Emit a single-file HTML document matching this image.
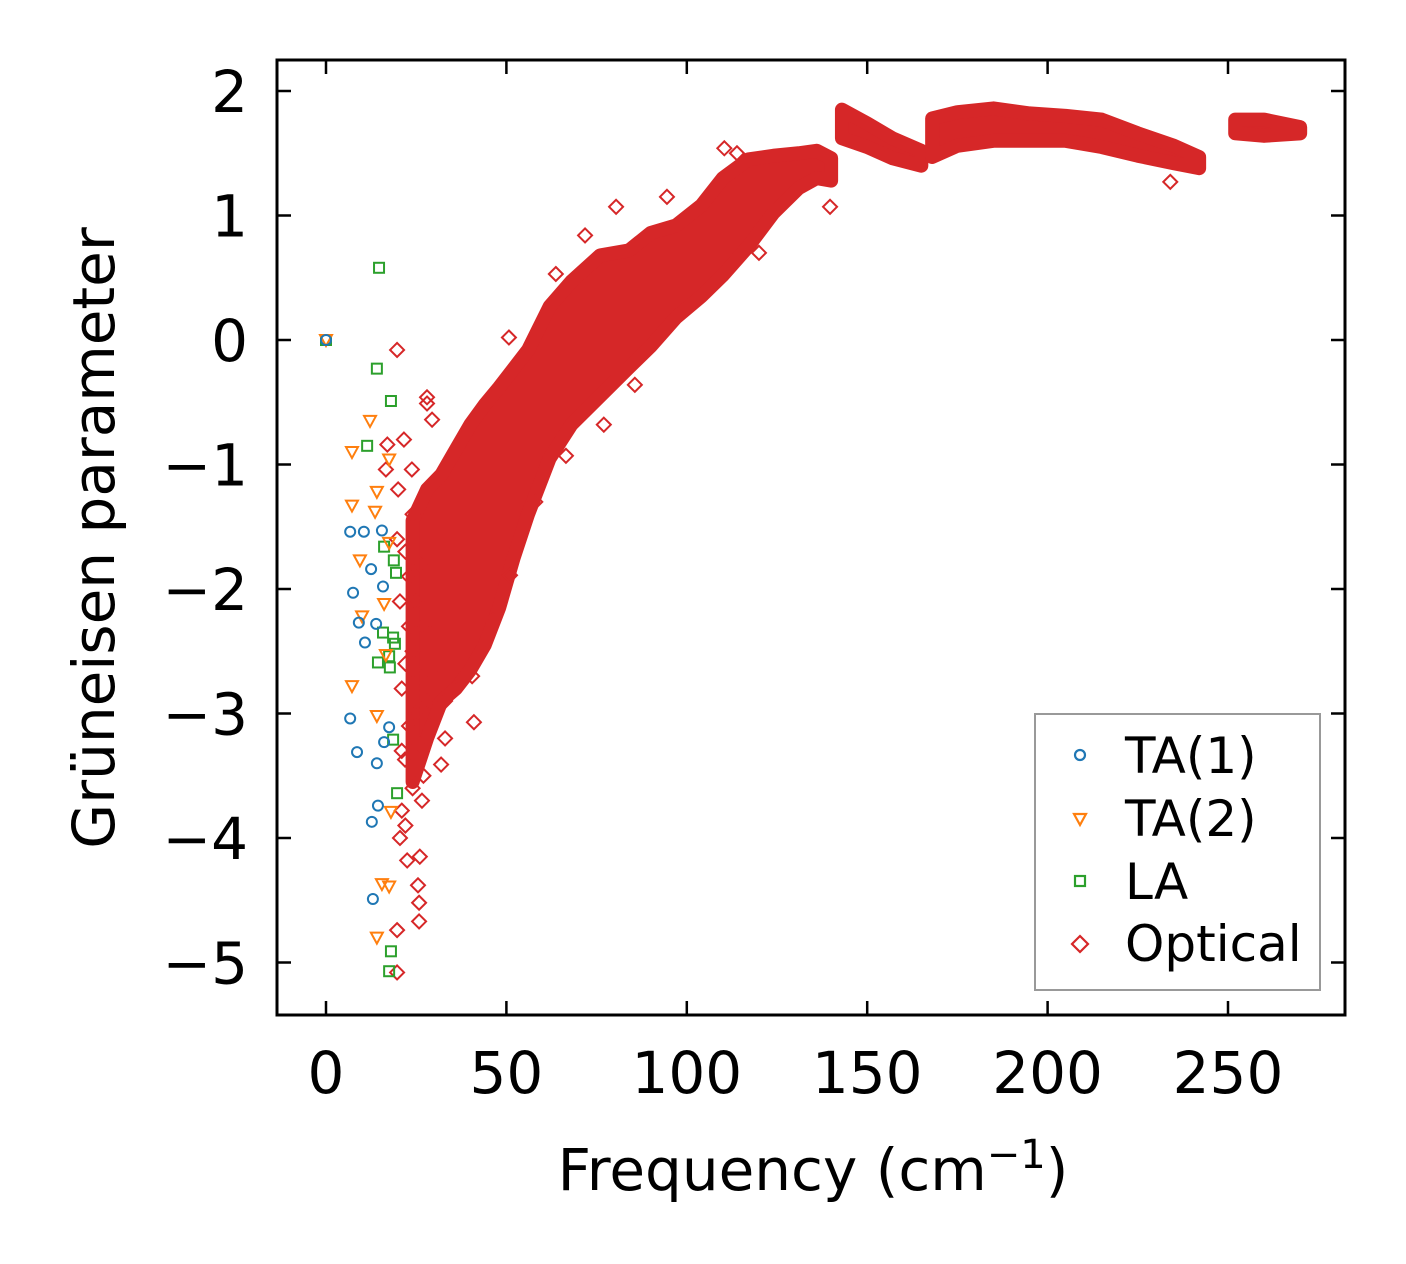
<!DOCTYPE html>
<html><head><meta charset="utf-8">
<style>
body{margin:0;background:#fff;}
svg{display:block;font-family:"DejaVu Sans","Liberation Sans",sans-serif;}
</style></head>
<body>
<svg id="chart" width="1406" height="1264" viewBox="0 0 1406 1264" xmlns="http://www.w3.org/2000/svg">
<rect width="1406" height="1264" fill="#fff"/>
<g id="marks"></g>
<rect x="277" y="60" width="1068" height="955" fill="none" stroke="#000" stroke-width="3"/>
<g id="ticks"></g>
<text x="813" y="1190" font-size="58" text-anchor="middle">Frequency (cm<tspan dy="-22" font-size="40">−1</tspan><tspan dy="22">)</tspan></text>
<text transform="translate(114,538) rotate(-90)" font-size="58" text-anchor="middle">Grüneisen parameter</text>
<g>
<rect x="1035" y="714" width="285" height="276" fill="#fff" fill-opacity="0.8" stroke="#999" stroke-width="2"/>
<circle cx="1080" cy="755" r="5" fill="none" stroke="#1f77b4" stroke-width="2.2"/>
<text x="1125" y="773" font-size="50">TA(1)</text>
<path d="M1074,814 L1086,814 L1080,825 Z" fill="none" stroke="#ff7f0e" stroke-width="2.2"/>
<text x="1125" y="836" font-size="50">TA(2)</text>
<rect x="1075" y="876" width="10" height="10" fill="none" stroke="#2ca02c" stroke-width="2.2"/>
<text x="1125" y="899" font-size="50">LA</text>
<path d="M1080,936 L1088,944 L1080,952 L1072,944 Z" fill="none" stroke="#d62728" stroke-width="2.2"/>
<text x="1125" y="961" font-size="50">Optical</text>
</g>
</svg>
<script>
const xTicks=[0,50,100,150,200,250];
const yTicks=[2,1,0,-1,-2,-3,-4,-5];
const ta1F=[0,6.7,10.5,7.5,9.1,10.8,12.5,13.9,15.8,15.5,6.7,8.6,14.1,16.1,17.5,14.4,12.7,13];
const ta1G=[0,-1.54,-1.54,-2.03,-2.27,-2.43,-1.84,-2.28,-1.98,-1.53,-3.04,-3.31,-3.4,-3.23,-3.11,-3.74,-3.87,-4.49];
const ta2F=[0,7.2,7.2,12.2,9.4,10,14.1,13.6,17.5,17.5,16.1,7.2,14.1,18,15.5,17.5,14.1,16.6];
const ta2G=[0,-0.9,-1.33,-0.65,-1.77,-2.22,-1.22,-1.38,-0.96,-1.63,-2.12,-2.78,-3.02,-3.79,-4.37,-4.39,-4.8,-2.53];
const laF=[0,14.7,14.1,18,11.4,16.1,18.8,19.4,15.8,18.6,19.1,14.4,17.5,17.7,18.6,19.7,18,17.5];
const laG=[0,0.58,-0.23,-0.49,-0.85,-1.66,-1.77,-1.87,-2.35,-2.39,-2.44,-2.59,-2.54,-2.63,-3.21,-3.64,-4.91,-5.07];
// optical dense band segments: frequency, lower and upper gamma
const band1F=[24,28,32,36,40,44,48,52,56,62,68,76,84,90,97,104,110,117,124,131,136,140];
const band1Lo=[-3.55,-3.2,-2.9,-2.8,-2.65,-2.45,-2.15,-1.75,-1.4,-0.95,-0.68,-0.45,-0.22,-0.05,0.18,0.35,0.52,0.75,1.02,1.22,1.3,1.28];
const band1Hi=[-1.45,-1.2,-1.08,-0.88,-0.68,-0.52,-0.38,-0.23,-0.08,0.27,0.47,0.68,0.72,0.86,0.92,1.08,1.3,1.45,1.48,1.5,1.52,1.46];
const band2F=[143,150,157,165];
const band2Lo=[1.62,1.55,1.46,1.4];
const band2Hi=[1.85,1.74,1.62,1.52];
const band3F=[168,175,185,195,205,215,225,235,242];
const band3Lo=[1.47,1.56,1.6,1.6,1.6,1.55,1.48,1.42,1.38];
const band3Hi=[1.78,1.83,1.86,1.82,1.8,1.77,1.66,1.56,1.47];
const band4F=[252,260,270];
const band4Lo=[1.66,1.64,1.66];
const band4Hi=[1.77,1.77,1.71];
const optF=[19.7,28,28,17,21.6,29.4,16.6,23.8,19.7,20.5,21,21.9,21,20.5,22.5,26,25.5,25.8,25.8,19.7,19.7,41,31.9,26.6,50.7,63.7,71.8,80.4,94.5,110.4,113.9,120,139.7,234,85.6,77,66.5,58,51,46.3,40.5,35.8,33,26,24,22,23,25,27,24,22,26,28,25,23,21,27,29,24,22,20,23,26,31,33];
const optG=[-0.08,-0.46,-0.51,-0.84,-0.8,-0.64,-1.04,-1.04,-1.6,-2.1,-2.8,-3.37,-3.78,-4.0,-4.18,-4.15,-4.38,-4.52,-4.67,-4.74,-5.08,-3.07,-3.41,-3.7,0.02,0.53,0.84,1.07,1.15,1.54,1.5,0.7,1.07,1.27,-0.36,-0.68,-0.93,-1.3,-1.89,-2.25,-2.7,-2.8,-3.2,-3.25,-1.4,-1.7,-1.9,-2.1,-2.3,-2.5,-2.6,-2.7,-2.9,-3.0,-3.1,-3.3,-3.5,-3.0,-3.6,-3.9,-1.2,-2.3,-1.8,-2.6,-2.9];

const X0=326, XS=3.608, Y0=340, YS=124.5;
const xs=v=>X0+v*XS, ys=v=>Y0-v*YS;
const NS='http://www.w3.org/2000/svg';
const marks=document.getElementById('marks'), ticks=document.getElementById('ticks');
function mk(tag,attrs,parent){const e=document.createElementNS(NS,tag);for(const k in attrs)e.setAttribute(k,attrs[k]);parent.appendChild(e);return e;}

xTicks.forEach(t=>{const x=xs(t);
 let l=mk('path',{d:`M${x},1015 L${x},1001 M${x},60 L${x},74`,stroke:'#000','stroke-width':2.5},ticks);
 
 
 let tx=mk('text',{x:x,y:1093,'font-size':58,'text-anchor':'middle'},ticks);tx.textContent=String(t);
 
 
});
yTicks.forEach(t=>{const y=ys(t);
 let l=mk('path',{d:`M277,${y} L291,${y} M1345,${y} L1331,${y}`,stroke:'#000','stroke-width':2.5},ticks);
 
 
 let tx=mk('text',{x:248,y:y+21,'font-size':58,'text-anchor':'end'},ticks);tx.textContent=t<0?'−'+Math.abs(t):String(t);
 
 
});

function band(F,Lo,Hi,name){
 let pts=F.map((f,i)=>xs(f)+','+ys(Hi[i]));
 for(let i=F.length-1;i>=0;i--)pts.push(xs(F[i])+','+ys(Lo[i]));
 let p=mk('polygon',{points:pts.join(' '),fill:'#d62728',stroke:'#d62728','stroke-width':14,'stroke-linejoin':'round'},marks);
 
 
}
band(band1F,band1Lo,band1Hi,'optical-band-main');
band(band2F,band2Lo,band2Hi,'optical-band-2');
band(band3F,band3Lo,band3Hi,'optical-band-3');
band(band4F,band4Lo,band4Hi,'optical-band-4');

optF.forEach((f,i)=>{const x=xs(f),y=ys(optG[i]);
 let p=mk('path',{d:`M${x},${y-7} L${x+7},${y} L${x},${y+7} L${x-7},${y} Z`,fill:'none',stroke:'#d62728','stroke-width':2},marks);
 
 
});
laF.forEach((f,i)=>{const x=xs(f),y=ys(laG[i]);
 let p=mk('rect',{x:x-5,y:y-5,width:10,height:10,fill:'none',stroke:'#2ca02c','stroke-width':2},marks);
 
 
});
ta2F.forEach((f,i)=>{const x=xs(f),y=ys(ta2G[i]);
 let p=mk('path',{d:`M${x-6},${y-5} L${x+6},${y-5} L${x},${y+6} Z`,fill:'none',stroke:'#ff7f0e','stroke-width':2},marks);
 
 
});
ta1F.forEach((f,i)=>{const x=xs(f),y=ys(ta1G[i]);
 let p=mk('circle',{cx:x,cy:y,r:5,fill:'none',stroke:'#1f77b4','stroke-width':2},marks);
 
 
});
</script>
</body></html>
